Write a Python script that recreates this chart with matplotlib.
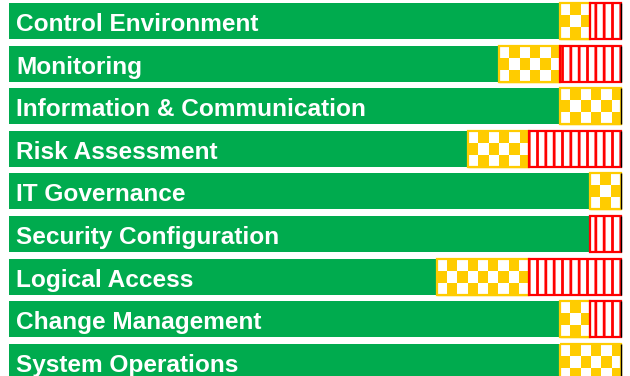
import numpy as np
import matplotlib.pyplot as plt

# Werte in Prozent je Kategorie
categories = ["Control Environment", "Monitoring", "Information & Communication",
              "Risk Assessment", "IT Governance", "Security Configuration",
              "Logical Access", "Change Management", "System Operations"]
green = np.array([90, 80, 90, 75, 95, 95, 70, 90, 90])
yellow = np.array([5, 10, 10, 10, 5, 0, 15, 5, 10])
red = np.array([5, 10, 0, 15, 0, 5, 15, 5, 0])

plt.rcParams['hatch.linewidth'] = 2.0

fig = plt.figure(figsize=(6.3, 3.76), dpi=100)
ax = fig.add_axes([0, 0, 1, 1])
y = np.arange(len(categories))
h = 0.845

ax.barh(y, green, height=h, color='#00AB4E', edgecolor='none')

ym = yellow > 0
ybars = ax.barh(y[ym], yellow[ym], left=green[ym], height=h,
                color='#FFCC00', edgecolor='#FFCC00', lw=1)

rm = red > 0
ax.barh(y[rm], red[rm], left=(green + yellow)[rm], height=h,
        color='white', edgecolor='#FF0000', hatch='||', lw=1.2)

# Schachbrettmuster in den gelben Balken
for bar in ybars:
    w = bar.get_width()
    ncol = max(2, int(round(w / 1.7)))
    board = np.indices((3, ncol)).sum(axis=0) % 2
    rgba = np.zeros((3, ncol, 4))
    rgba[board == 0] = [1, 1, 1, 1]
    x0, y0, bh = bar.get_x(), bar.get_y(), bar.get_height()
    im = ax.imshow(rgba, extent=(x0, x0 + w, y0 + bh, y0), aspect='auto',
                   interpolation='nearest', zorder=3)
    im.set_clip_path(bar)

# Rahmen über dem Muster
ax.barh(y[ym], yellow[ym], left=green[ym], height=h, fill=False,
        edgecolor='#FFCC00', lw=1.6, zorder=4)
ax.barh(y[rm], red[rm], left=(green + yellow)[rm], height=h, fill=False,
        edgecolor='#FF0000', lw=1.6, zorder=4.5)

totals = green + yellow + red
ax.vlines(totals, y - h / 2, y + h / 2, color='black', lw=1, zorder=5)

for i, cat in enumerate(categories):
    ax.text(1.15, i + 0.235, cat, color='white', fontweight='bold', fontsize=17.6,
            va='baseline', ha='left', family='Liberation Sans', zorder=6)

ax.set_xlim(-9 / 6.12, 621 / 6.12)
ax.set_ylim(8.333, -0.493)
ax.axis('off')

fig.savefig('out.png', dpi=100)
